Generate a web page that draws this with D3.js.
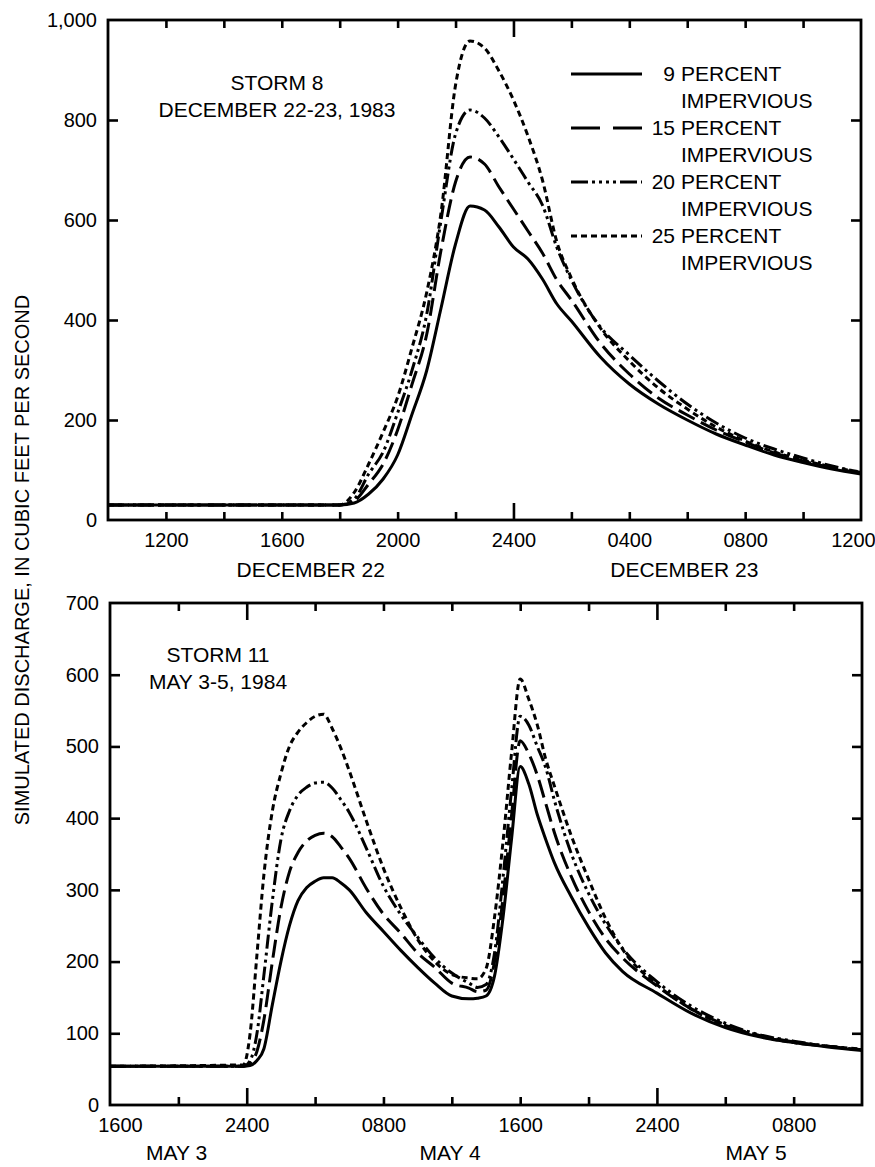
<!DOCTYPE html>
<html>
<head>
<meta charset="utf-8">
<script src="https://cdn.jsdelivr.net/npm/d3@7"></script>
<style>
  body { margin: 0; background: #fff; }
  svg { display: block; font-family: "Liberation Sans", Arial, sans-serif; }
</style>
</head>
<body>
<svg id="chart" width="875" height="1167"></svg>
<script>
// ---- data (hours since start of each plot) ----
// Storm 8: hours after 1000 on December 22, 1983
const topHours = [0, 8, 8.5, 9, 9.5, 10, 10.5, 11, 11.5, 12, 12.5, 13, 13.5, 14, 14.5, 15, 15.5, 16, 17, 18, 19, 20, 21, 22, 23, 24, 25, 26];
const top9  = [30, 30, 34, 52, 82, 130, 212, 298, 424, 552, 628, 620, 586, 546, 522, 482, 432, 398, 326, 272, 232, 200, 172, 150, 130, 115, 102, 92];
const top15 = [30, 30, 38, 72, 112, 180, 272, 370, 540, 676, 726, 712, 666, 622, 578, 534, 480, 440, 354, 292, 244, 210, 180, 156, 134, 118, 104, 94];
const top20 = [30, 30, 42, 92, 136, 214, 300, 410, 600, 772, 820, 804, 766, 722, 676, 630, 545, 480, 386, 330, 278, 232, 194, 164, 142, 124, 108, 95];
const top25 = [30, 30, 55, 112, 176, 246, 345, 454, 615, 870, 958, 944, 898, 840, 768, 680, 556, 484, 384, 318, 264, 222, 186, 158, 136, 120, 106, 96];

// Storm 11: hours after 1600 on May 3, 1984
const botHours = [0, 7.8, 8.2, 8.6, 9, 9.5, 10, 10.5, 11, 11.5, 12, 12.5, 13, 13.5, 14, 15, 16, 17, 18, 19, 20, 21, 21.5, 22, 22.5, 23, 23.5, 24, 24.5, 25, 25.5, 26, 27, 28, 29, 30, 32, 34, 36, 38, 40, 42, 44];
const bot9  = [54, 54, 55, 62, 78, 140, 200, 250, 285, 303, 312, 317, 317, 310, 300, 268, 242, 216, 192, 170, 152, 148, 149, 152, 180, 262, 372, 472, 448, 405, 370, 338, 290, 248, 212, 186, 156, 128, 108, 95, 87, 81, 76];
const bot15 = [54, 54, 58, 75, 118, 200, 275, 325, 352, 368, 376, 379, 374, 360, 344, 302, 266, 240, 212, 192, 170, 163, 158, 160, 200, 290, 405, 508, 490, 460, 420, 380, 318, 270, 232, 205, 166, 134, 112, 97, 88, 82, 77];
const bot20 = [54, 54, 62, 100, 180, 285, 370, 410, 432, 443, 449, 450, 442, 426, 408, 358, 305, 266, 234, 205, 184, 170, 164, 168, 212, 318, 440, 542, 530, 500, 470, 425, 350, 295, 252, 218, 172, 138, 114, 98, 89, 82, 77];
const bot25 = [54, 56, 100, 210, 320, 410, 462, 500, 520, 533, 542, 545, 525, 498, 466, 396, 330, 276, 231, 200, 182, 177, 176, 190, 262, 368, 492, 594, 566, 530, 482, 445, 375, 315, 260, 217, 168, 134, 111, 96, 87, 82, 78];

const seriesPct = ["9", "15", "20", "25"];
const seriesDash = ["none", "18,7", "14,4,3,4,3,4", "6,4"];
const legendDash = ["none", "29,13", "17,4,3,4,3,4,3,4,3,4", "6,4"];

const topYTicks = [0, 200, 400, 600, 800, 1000];
const topXTicks = [0, 2, 4, 6, 8, 10, 12, 14, 16, 18, 20, 22, 24, 26];
const topXLabelHours = [2, 6, 10, 14, 18, 22, 26];
const topXLabels = ["1200", "1600", "2000", "2400", "0400", "0800", "1200"];
const topMidnight = [14];
const topDates = ["DECEMBER 22", "DECEMBER 23"];
const topDateHours = [7, 19.9];

const botYTicks = [0, 100, 200, 300, 400, 500, 600, 700];
const botXTicks = [0, 4, 8, 12, 16, 20, 24, 28, 32, 36, 40, 44];
const botXLabelHours = [0, 8, 16, 24, 32, 40];
const botXLabels = ["1600", "2400", "0800", "1600", "2400", "0800"];
const botMidnight = [8, 32];
const botDates = ["MAY 3", "MAY 4", "MAY 5"];
const botDateHours = [3.9, 19.9, 37.8];

const svg = d3.select("#chart");
const fs = 21;

function drawPanel(cfg) {
    const x = d3.scaleLinear().domain(cfg.xDomain).range([cfg.left, cfg.right]);
    const y = d3.scaleLinear().domain(cfg.yDomain).range([cfg.bottom, cfg.top]);
    const g = svg.append("g");

    // left axis with labels
    const ax = g.append("g")
        .attr("transform", `translate(${cfg.left},0)`)
        .call(d3.axisLeft(y).tickValues(cfg.yTicks).tickSize(-10).tickPadding(11).tickFormat(d3.format(",")));
    // right axis ticks only
    const ar = g.append("g")
        .attr("transform", `translate(${cfg.right},0)`)
        .call(d3.axisRight(y).tickValues(cfg.yTicks).tickSize(-10).tickFormat(""));
    // bottom axis
    const ab = g.append("g")
        .attr("transform", `translate(0,${cfg.bottom})`)
        .call(d3.axisBottom(x).tickValues(cfg.xTicks).tickSize(-8).tickPadding(13)
            .tickFormat(d => {
                const i = cfg.xLabelHours.indexOf(d);
                return i >= 0 ? cfg.xLabels[i] : "";
            }));
    // top axis ticks only
    const at = g.append("g")
        .attr("transform", `translate(0,${cfg.top})`)
        .call(d3.axisTop(x).tickValues(cfg.xTicks).tickSize(-8).tickFormat(""));

    ab.selectAll(".tick line").attr("y2", d => cfg.midnight.includes(d) ? -17 : -8);
    at.selectAll(".tick line").attr("y2", d => cfg.midnight.includes(d) ? 17 : 8);
    // skip the ticks that sit on the frame
    [ab, at].forEach(a => a.selectAll(".tick line")
        .attr("display", d => (d === cfg.xDomain[0] || d === cfg.xDomain[1]) ? "none" : null));
    [ax, ar].forEach(a => a.selectAll(".tick line")
        .attr("display", d => (d === cfg.yDomain[0] || d === cfg.yDomain[1]) ? "none" : null));

    [ax, ar, ab, at].forEach(a => {
        a.select(".domain").remove();
        a.selectAll(".tick line").attr("stroke", "#000").attr("stroke-width", 2.6);
        a.selectAll("text").attr("fill", "#000").style("font-size", fs - 1 + "px")
            .style("font-family", "'Liberation Sans', Arial, sans-serif");
    });
    if (cfg.labelShift) {
        ab.selectAll(".tick text").attr("dx", d => cfg.labelShift[d] || 0);
    }

    // frame
    g.append("rect")
        .attr("x", cfg.left).attr("y", cfg.top)
        .attr("width", cfg.right - cfg.left).attr("height", cfg.bottom - cfg.top)
        .attr("fill", "none").attr("stroke", "#000").attr("stroke-width", 2.8);

    // curves
    const line = d3.line()
        .x((d, i) => x(cfg.hours[i]))
        .y(d => y(d))
        .curve(d3.curveMonotoneX);
    cfg.series.forEach((vals, i) => {
        g.append("path")
            .attr("d", line(vals))
            .attr("fill", "none")
            .attr("stroke", "#000")
            .attr("stroke-width", 3)
            .attr("stroke-linejoin", "round")
            .attr("stroke-dasharray", seriesDash[i]);
    });

    // dates below axis
    g.selectAll(".date")
        .data(cfg.dates)
        .join("text")
        .attr("x", (d, i) => x(cfg.dateHours[i]))
        .attr("y", cfg.dateY)
        .attr("text-anchor", "middle")
        .style("font-size", fs + "px")
        .text(d => d);

    // storm annotation
    g.selectAll(".note")
        .data(cfg.note)
        .join("text")
        .attr("x", cfg.noteX)
        .attr("y", (d, i) => cfg.noteY + i * 27)
        .attr("text-anchor", "middle")
        .style("font-size", fs + "px")
        .text(d => d);
    return {x, y};
}

drawPanel({
    left: 108, right: 861, top: 20, bottom: 520,
    xDomain: [0, 26], yDomain: [0, 1000],
    yTicks: topYTicks, xTicks: topXTicks,
    xLabelHours: topXLabelHours, xLabels: topXLabels,
    midnight: topMidnight,
    labelShift: {26: -8},
    hours: topHours, series: [top9, top15, top20, top25],
    dates: topDates, dateHours: topDateHours, dateY: 577,
    note: ["STORM 8", "DECEMBER 22-23, 1983"], noteX: 277, noteY: 90
});

drawPanel({
    left: 110, right: 862, top: 603, bottom: 1105,
    xDomain: [0, 44], yDomain: [0, 700],
    yTicks: botYTicks, xTicks: botXTicks,
    xLabelHours: botXLabelHours, xLabels: botXLabels,
    midnight: botMidnight,
    labelShift: {0: 10},
    hours: botHours, series: [bot9, bot15, bot20, bot25],
    dates: botDates, dateHours: botDateHours, dateY: 1160,
    note: ["STORM 11", "MAY 3-5, 1984"], noteX: 218, noteY: 662
});

// legend
const legendY = [74, 128, 182, 236];
const leg = svg.append("g");
seriesPct.forEach((p, i) => {
    const yy = legendY[i];
    leg.append("line")
        .attr("x1", 571).attr("x2", 642).attr("y1", yy).attr("y2", yy)
        .attr("stroke", "#000").attr("stroke-width", 2.8)
        .attr("stroke-dasharray", legendDash[i]);
    leg.append("text").attr("x", 675).attr("y", yy).attr("dy", "0.35em")
        .attr("text-anchor", "end").style("font-size", fs + "px").text(p);
    leg.append("text").attr("x", 681).attr("y", yy).attr("dy", "0.35em")
        .style("font-size", fs + "px").text("PERCENT");
    leg.append("text").attr("x", 681).attr("y", yy + 27).attr("dy", "0.35em")
        .style("font-size", fs + "px").text("IMPERVIOUS");
});

// shared y-axis title
svg.append("text")
    .attr("transform", "translate(29,560) rotate(-90)")
    .attr("text-anchor", "middle")
    .style("font-size", "20px")
    .text("SIMULATED DISCHARGE, IN CUBIC FEET PER SECOND");
</script>
</body>
</html>
